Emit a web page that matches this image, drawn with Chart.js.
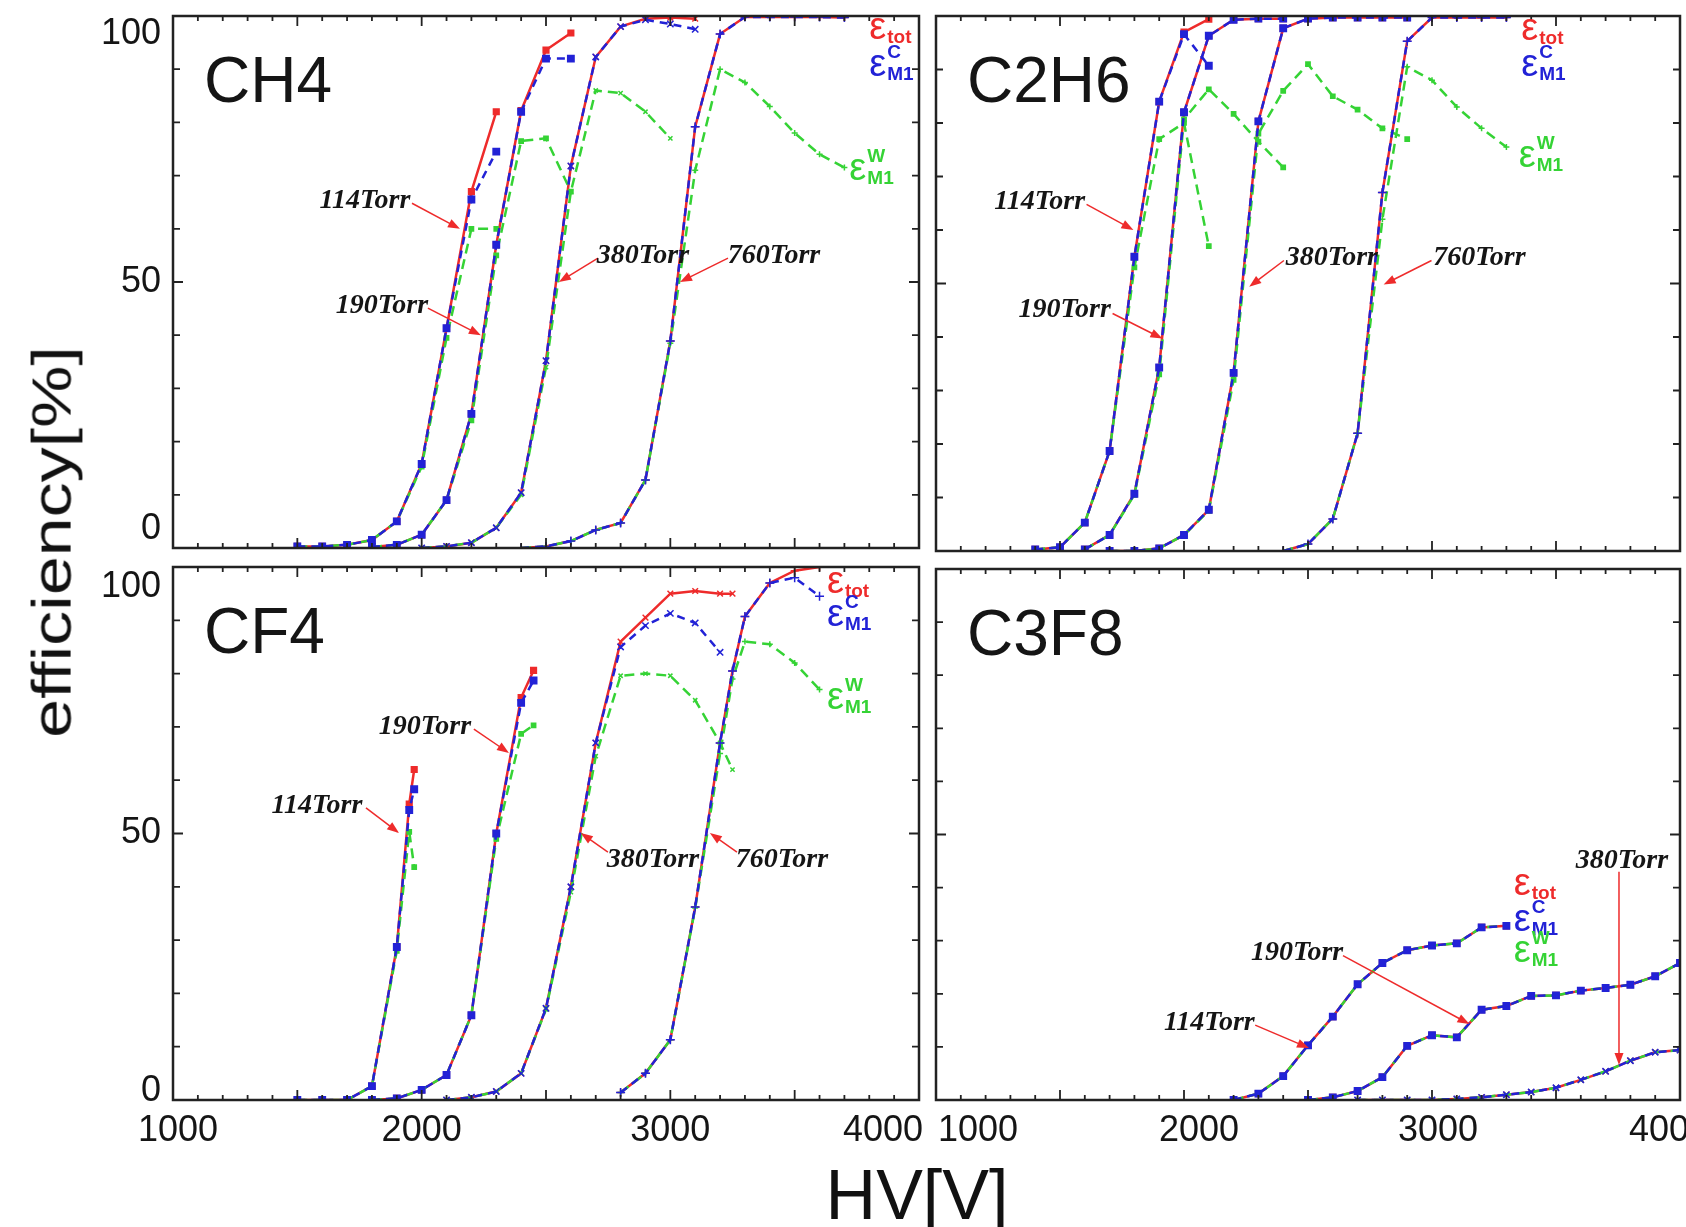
<!DOCTYPE html>
<html>
<head>
<meta charset="utf-8">
<title>efficiency vs HV</title>
<script src="https://cdn.jsdelivr.net/npm/chart.js@4.4.1/dist/chart.umd.min.js"></script>
<style>
  body { margin: 0; background: #fff; }
  #page { position: relative; width: 1686px; height: 1227px; overflow: hidden; background: #fff; }
  canvas { position: absolute; }
  .axis-title {
    position: absolute;
    font-family: "Liberation Sans", Arial, sans-serif;
    font-size: 70px;
    line-height: 70px;
    color: #111;
    white-space: nowrap;
  }
  #ytitle { left: 52px; top: 542px; transform: translate(-50%, -50%) rotate(-90deg) scaleY(0.78); }
  #xtitle { left: 917px; top: 1195px; transform: translate(-50%, -50%); }
</style>
</head>
<body>
<div id="page">
  <canvas id="ch4" width="928" height="560" style="left:0;top:0"></canvas>
  <canvas id="c2h6" width="758" height="560" style="left:928px;top:0"></canvas>
  <canvas id="cf4" width="928" height="600" style="left:0;top:560px"></canvas>
  <canvas id="c3f8" width="758" height="600" style="left:928px;top:560px"></canvas>
  <div class="axis-title" id="ytitle">efficiency[%]</div>
  <div class="axis-title" id="xtitle">HV[V]</div>
</div>

<script>
// ===== Tick labels =====
const xTicks = [1000, 2000, 3000, 4000];
const yTicks = [0, 50, 100];

// ===== CH4 =====
const ch4Hv114  = [1500, 1600, 1700, 1800, 1900, 2000, 2100, 2200, 2300];
const ch4Tot114 = [0.3, 0.3, 0.6, 1.5, 5, 15.8, 41.3, 67, 82];
const ch4C114   = [0.3, 0.3, 0.6, 1.5, 5, 15.8, 41.3, 65.5, 74.5];
const ch4W114   = [0.3, 0.3, 0.6, 1.5, 5, 15.3, 39.5, 60, 60];

const ch4Hv190  = [1800, 1900, 2000, 2100, 2200, 2300, 2400, 2500, 2600];
const ch4Tot190 = [0.2, 0.6, 2.5, 9, 25.2, 57, 82.2, 93.6, 96.8];
const ch4C190   = [0.2, 0.6, 2.5, 9, 25.2, 57, 82, 92, 92];
const ch4W190   = [0.2, 0.6, 2.5, 9, 24, 55, 76.5, 77, 67];

const ch4Hv380  = [2000, 2100, 2200, 2300, 2400, 2500, 2600, 2700, 2800, 2900, 3000, 3100];
const ch4Tot380 = [0, 0.3, 1, 3.8, 10.4, 35.2, 71.8, 92.3, 98, 99.5, 99.7, 99.5];
const ch4C380   = [0, 0.3, 1, 3.8, 10.4, 35.2, 71.8, 92.3, 98, 99.3, 98.5, 97.5];
const ch4W380   = [0, 0.3, 1, 3.8, 10, 34, 67, 86, 85.5, 82, 77, null];

const ch4Hv760  = [2400, 2500, 2600, 2700, 2800, 2900, 3000, 3100, 3200, 3300, 3400, 3500, 3600, 3700];
const ch4Tot760 = [0, 0.3, 1.3, 3.4, 4.7, 12.8, 38.9, 79.2, 96.6, 99.8, 99.8, 99.8, 99.8, 99.7];
const ch4C760   = [0, 0.3, 1.3, 3.4, 4.7, 12.8, 38.9, 79.2, 96.6, 99.8, 99.8, 99.8, 99.8, 99.7];
const ch4W760   = [0, 0.3, 1.3, 3.4, 4.7, 12.8, 38.5, 71, 90, 87.5, 83, 78, 74, 71.5];

// ===== C2H6 =====
const c2h6Hv114  = [1400, 1500, 1600, 1700, 1800, 1900, 2000, 2100];
const c2h6Tot114 = [0.3, 0.7, 5.3, 18.7, 55, 84, 97, 99.4];
const c2h6C114   = [0.3, 0.7, 5.3, 18.7, 55, 84, 96.6, 90.7];
const c2h6W114   = [0.3, 0.7, 5.3, 18.7, 53, 77, 80, 57];

const c2h6Hv190  = [1600, 1700, 1800, 1900, 2000, 2100, 2200, 2300, 2400];
const c2h6Tot190 = [0.3, 3, 10.7, 34.3, 82, 96.3, 99.3, 99.5, 99.5];
const c2h6C190   = [0.3, 3, 10.7, 34.3, 82, 96.3, 99.3, 99.5, 99.5];
const c2h6W190   = [0.3, 3, 10.5, 33, 80.7, 86.3, 81.7, 76.5, 71.7];

const c2h6Hv380  = [1700, 1800, 1900, 2000, 2100, 2200, 2300, 2400, 2500, 2600, 2700, 2800, 2900];
const c2h6Tot380 = [0, 0, 0.5, 3, 7.7, 33.3, 80.3, 97.7, 99.5, 99.7, 99.7, 99.7, 99.7];
const c2h6C380   = [0, 0, 0.5, 3, 7.7, 33.3, 80.3, 97.7, 99.5, 99.7, 99.7, 99.7, 99.7];
const c2h6W380   = [0, 0, 0.5, 3, 7.5, 32, 78, 86, 91, 85, 82.5, 79, 77];

const c2h6Hv760  = [2400, 2500, 2600, 2700, 2800, 2900, 3000, 3100, 3200, 3300];
const c2h6Tot760 = [0, 1.3, 6, 22, 67, 95.3, 99.7, 99.7, 99.7, 99.7];
const c2h6C760   = [0, 1.3, 6, 22, 67, 95.3, 99.7, 99.7, 99.7, 99.7];
const c2h6W760   = [0, 1.3, 6, 22, 62, 90.5, 88, 83, 79, 75.5];

// ===== CF4 =====
const cf4Hv114  = [1500, 1600, 1700, 1800, 1900, 1950, 1970];
const cf4Tot114 = [0, 0, 0, 2.6, 28.7, 55.5, 62];
const cf4C114   = [0, 0, 0, 2.6, 28.7, 54.4, 58.3];
const cf4W114   = [0, 0, 0, 2.6, 28, 50.3, 43.7];

const cf4Hv190  = [1800, 1900, 2000, 2100, 2200, 2300, 2400, 2450];
const cf4Tot190 = [0, 0.3, 1.9, 4.7, 15.9, 50, 75.5, 80.6];
const cf4C190   = [0, 0.3, 1.9, 4.7, 15.9, 50, 74.5, 78.7];
const cf4W190   = [0, 0.3, 1.9, 4.7, 15.9, 49, 68.7, 70.3];

const cf4Hv380  = [2100, 2200, 2300, 2400, 2500, 2600, 2700, 2800, 2900, 3000, 3100, 3200, 3250];
const cf4Tot380 = [0, 0.5, 1.6, 5, 17.2, 40, 67, 86, 90.5, 95, 95.5, 95, 95];
const cf4C380   = [0, 0.5, 1.6, 5, 17.2, 40, 67, 85, 89, 91.3, 89.5, 84, null];
const cf4W380   = [0, 0.5, 1.6, 5, 17, 39, 64.5, 79.6, 80, 79.6, 75, 67, 62];

const cf4Hv760  = [2800, 2900, 3000, 3100, 3200, 3250, 3300, 3400, 3500, 3600];
const cf4Tot760 = [1.4, 5, 11.3, 36.2, 67, 80.5, 90.7, 97, 99.3, 100];
const cf4C760   = [1.4, 5, 11.3, 36.2, 67, 80.5, 90.7, 97, 98, 94.5];
const cf4W760   = [1.4, 5, 11.3, 36, 65, 79, 86, 85.5, 82, 77];

// ===== C3F8 (as três eficiências coincidem) =====
const c3f8Hv114  = [2200, 2300, 2400, 2500, 2600, 2700, 2800, 2900, 3000, 3100, 3200, 3300];
const c3f8Eff114 = [0, 1.2, 4.5, 10.3, 15.7, 21.8, 25.8, 28.2, 29.1, 29.5, 32.5, 32.8];

const c3f8Hv190  = [2500, 2600, 2700, 2800, 2900, 3000, 3100, 3200, 3300, 3400, 3500, 3600, 3700, 3800, 3900, 4000];
const c3f8Eff190 = [0, 0.5, 1.7, 4.3, 10.2, 12.2, 11.8, 17, 17.7, 19.6, 19.7, 20.6, 21.1, 21.7, 23.3, 25.8];

const c3f8Hv380  = [2700, 2800, 2900, 3000, 3100, 3200, 3300, 3400, 3500, 3600, 3700, 3800, 3900, 4000];
const c3f8Eff380 = [0, 0, 0, 0, 0.2, 0.5, 1, 1.5, 2.3, 3.8, 5.4, 7.4, 9, 9.4];

// ===== Cores =====
const RED = '#ee2b2b';
const BLUE = '#2222d6';
const GREEN = '#35d335';
const INK = '#151515';

// ===== Datasets =====
function serie(hv, vals, color, dash, marker, radius, order) {
    return {
        data: hv.map((v, i) => ({ x: v, y: vals[i] })),
        borderColor: color,
        backgroundColor: color,
        borderWidth: 2.5,
        borderDash: dash,
        pointStyle: marker,
        pointRadius: radius,
        pointBorderWidth: 1.5,
        tension: 0,
        order
    };
}

function curve(hv, tot, c, w, marker) {
    return [
        serie(hv, c, BLUE, [8, 6], marker, 4.5, 0),
        serie(hv, w, GREEN, [10, 6], marker, 3, 1),
        serie(hv, tot, RED, [], marker, 4, 2)
    ];
}

// ===== Painel: moldura, ticks, textos =====
function drawArrow(ctx, x1, y1, x2, y2) {
    const ang = Math.atan2(y2 - y1, x2 - x1);
    ctx.strokeStyle = RED;
    ctx.fillStyle = RED;
    ctx.lineWidth = 1.5;
    ctx.beginPath();
    ctx.moveTo(x1, y1);
    ctx.lineTo(x2 - 8 * Math.cos(ang), y2 - 8 * Math.sin(ang));
    ctx.stroke();
    ctx.beginPath();
    ctx.moveTo(x2, y2);
    ctx.lineTo(x2 - 12 * Math.cos(ang) + 4.5 * Math.sin(ang), y2 - 12 * Math.sin(ang) - 4.5 * Math.cos(ang));
    ctx.lineTo(x2 - 12 * Math.cos(ang) - 4.5 * Math.sin(ang), y2 - 12 * Math.sin(ang) + 4.5 * Math.cos(ang));
    ctx.closePath();
    ctx.fill();
}

function drawEps(ctx, px, py, color, sup, sub) {
    const base = py + 10;
    ctx.fillStyle = color;
    ctx.textAlign = 'left';
    ctx.textBaseline = 'alphabetic';
    ctx.font = '38px "Liberation Sans"';
    ctx.fillText('ε', px, base);
    const w = ctx.measureText('ε').width + 1;
    ctx.font = 'bold 19px "Liberation Sans"';
    if (sup) ctx.fillText(sup, px + w, base - 18);
    ctx.fillText(sub, px + w, base + 4);
}

const panelPlugin = {
    id: 'panel',
    afterDatasetsDraw(chart) {
        const p = chart.options.plugins.panel;
        const ctx = chart.ctx;
        const a = chart.chartArea;
        const x = chart.scales.x;
        const y = chart.scales.y;
        ctx.save();

        // ticks para dentro, nos 4 lados
        ctx.strokeStyle = '#222';
        ctx.lineWidth = 1.8;
        ctx.beginPath();
        for (let v = 1100; v < 4000; v += 100) {
            const px = x.getPixelForValue(v);
            const len = v % 500 === 0 ? 10 : 5;
            ctx.moveTo(px, a.bottom); ctx.lineTo(px, a.bottom - len);
            ctx.moveTo(px, a.top); ctx.lineTo(px, a.top + len);
        }
        for (let v = 10; v < 100; v += 10) {
            const py = y.getPixelForValue(v);
            const len = v === 50 ? 10 : 7;
            ctx.moveTo(a.left, py); ctx.lineTo(a.left + len, py);
            ctx.moveTo(a.right, py); ctx.lineTo(a.right - len, py);
        }
        ctx.stroke();

        // moldura
        ctx.lineWidth = 2.5;
        ctx.strokeRect(a.left, a.top, a.right - a.left, a.bottom - a.top);

        // labels dos ticks
        ctx.fillStyle = INK;
        ctx.font = '36px "Liberation Sans"';
        ctx.textBaseline = 'middle';
        if (p.yShift) {
            ctx.textAlign = 'right';
            yTicks.forEach((v, i) => {
                ctx.fillText(String(v), a.left - 12, y.getPixelForValue(v) + p.yShift[i]);
            });
        }
        if (p.xShift) {
            ctx.textAlign = 'center';
            xTicks.forEach((v, i) => {
                ctx.fillText(String(v), x.getPixelForValue(v) + p.xShift[i], a.bottom + 31);
            });
        }

        // nome do gás
        ctx.font = '64px "Liberation Sans"';
        ctx.textAlign = 'left';
        ctx.textBaseline = 'alphabetic';
        ctx.fillText(p.title, a.left + 31, a.top + 86);

        // anotações de pressão
        p.notes.forEach(n => {
            drawArrow(ctx,
                x.getPixelForValue(n.from[0]), y.getPixelForValue(n.from[1]),
                x.getPixelForValue(n.to[0]), y.getPixelForValue(n.to[1]));
            ctx.fillStyle = INK;
            ctx.font = 'italic bold 28px "Liberation Serif"';
            ctx.textAlign = 'center';
            ctx.textBaseline = 'middle';
            ctx.fillText(n.text, x.getPixelForValue(n.at[0]), y.getPixelForValue(n.at[1]));
        });

        // legenda das eficiências
        const e = p.eps;
        drawEps(ctx, x.getPixelForValue(e.tot[0]), y.getPixelForValue(e.tot[1]), RED, '', 'tot');
        drawEps(ctx, x.getPixelForValue(e.c[0]), y.getPixelForValue(e.c[1]), BLUE, 'C', 'M1');
        drawEps(ctx, x.getPixelForValue(e.w[0]), y.getPixelForValue(e.w[1]), GREEN, 'W', 'M1');

        ctx.restore();
    }
};

// ===== Criar gráfico =====
function criarPainel(id, datasets, padding, panel) {
    const ctx = document.getElementById(id).getContext('2d');
    return new Chart(ctx, {
        type: 'line',
        data: { datasets },
        options: {
            responsive: false,
            maintainAspectRatio: false,
            animation: false,
            events: [],
            layout: { padding },
            scales: {
                x: { type: 'linear', min: 1000, max: 4000, display: false },
                y: { type: 'linear', min: 0, max: 100, display: false }
            },
            plugins: {
                legend: { display: false },
                tooltip: { enabled: false },
                panel
            }
        },
        plugins: [panelPlugin]
    });
}

criarPainel('ch4', [
    ...curve(ch4Hv114, ch4Tot114, ch4C114, ch4W114, 'rect'),
    ...curve(ch4Hv190, ch4Tot190, ch4C190, ch4W190, 'rect'),
    ...curve(ch4Hv380, ch4Tot380, ch4C380, ch4W380, 'crossRot'),
    ...curve(ch4Hv760, ch4Tot760, ch4C760, ch4W760, 'cross')
], { left: 173, top: 16, right: 9, bottom: 12 }, {
    title: 'CH4',
    yShift: [-19, 0, 18],
    notes: [
        { text: '114Torr', at: [1772, 65.2], from: [1961, 64.8], to: [2154, 60] },
        { text: '190Torr', at: [1840, 45.5], from: [2025, 45.1], to: [2238, 40] },
        { text: '380Torr', at: [2890, 55], from: [2709, 54.5], to: [2552, 50] },
        { text: '760Torr', at: [3417, 55], from: [3232, 54.5], to: [3039, 50] }
    ],
    eps: { tot: [3800, 97.5], c: [3800, 90.6], w: [3720, 71] }
});

criarPainel('c2h6', [
    ...curve(c2h6Hv114, c2h6Tot114, c2h6C114, c2h6W114, 'rect'),
    ...curve(c2h6Hv190, c2h6Tot190, c2h6C190, c2h6W190, 'rect'),
    ...curve(c2h6Hv380, c2h6Tot380, c2h6C380, c2h6W380, 'rect'),
    ...curve(c2h6Hv760, c2h6Tot760, c2h6C760, c2h6W760, 'cross')
], { left: 8, top: 16, right: 4, bottom: 9 }, {
    title: 'C2H6',
    notes: [
        { text: '114Torr', at: [1418, 65.2], from: [1607, 64.8], to: [1796, 60] },
        { text: '190Torr', at: [1519, 45], from: [1712, 44.4], to: [1913, 39.7] },
        { text: '380Torr', at: [2596, 54.9], from: [2403, 54.3], to: [2263, 49.4] },
        { text: '760Torr', at: [3191, 54.9], from: [2998, 54.3], to: [2805, 49.8] }
    ],
    eps: { tot: [3360, 97.3], c: [3360, 90.6], w: [3350, 73.7] }
});

criarPainel('cf4', [
    ...curve(cf4Hv114, cf4Tot114, cf4C114, cf4W114, 'rect'),
    ...curve(cf4Hv190, cf4Tot190, cf4C190, cf4W190, 'rect'),
    ...curve(cf4Hv380, cf4Tot380, cf4C380, cf4W380, 'crossRot'),
    ...curve(cf4Hv760, cf4Tot760, cf4C760, cf4W760, 'cross')
], { left: 173, top: 7, right: 9, bottom: 60 }, {
    title: 'CF4',
    yShift: [-9, 0, 20],
    xShift: [5, 0, 0, -36],
    notes: [
        { text: '114Torr', at: [1579, 55.2], from: [1776, 54.8], to: [1909, 50.1] },
        { text: '190Torr', at: [2013, 70], from: [2210, 69.6], to: [2351, 65.1] },
        { text: '380Torr', at: [2930, 45], from: [2749, 46.5], to: [2640, 50.1] },
        { text: '760Torr', at: [3449, 45], from: [3268, 46.5], to: [3159, 50.1] }
    ],
    eps: { tot: [3630, 97], c: [3630, 90.8], w: [3630, 75.3] }
});

criarPainel('c3f8', [
    ...curve(c3f8Hv114, c3f8Eff114, c3f8Eff114, c3f8Eff114, 'rect'),
    ...curve(c3f8Hv190, c3f8Eff190, c3f8Eff190, c3f8Eff190, 'rect'),
    ...curve(c3f8Hv380, c3f8Eff380, c3f8Eff380, c3f8Eff380, 'crossRot')
], { left: 8, top: 9, right: 4, bottom: 60 }, {
    title: 'C3F8',
    xShift: [42, 15, 6, -11],
    notes: [
        { text: '114Torr', at: [2102, 14.6], from: [2287, 14.1], to: [2504, 9.8] },
        { text: '190Torr', at: [2456, 27.8], from: [2641, 27.2], to: [3151, 14.3] },
        { text: '380Torr', at: [3766, 45], from: [3754, 43], to: [3754, 6.6] }
    ],
    eps: { tot: [3330, 40.5], c: [3330, 33.8], w: [3330, 27.8] }
});
</script>
</body>
</html>
